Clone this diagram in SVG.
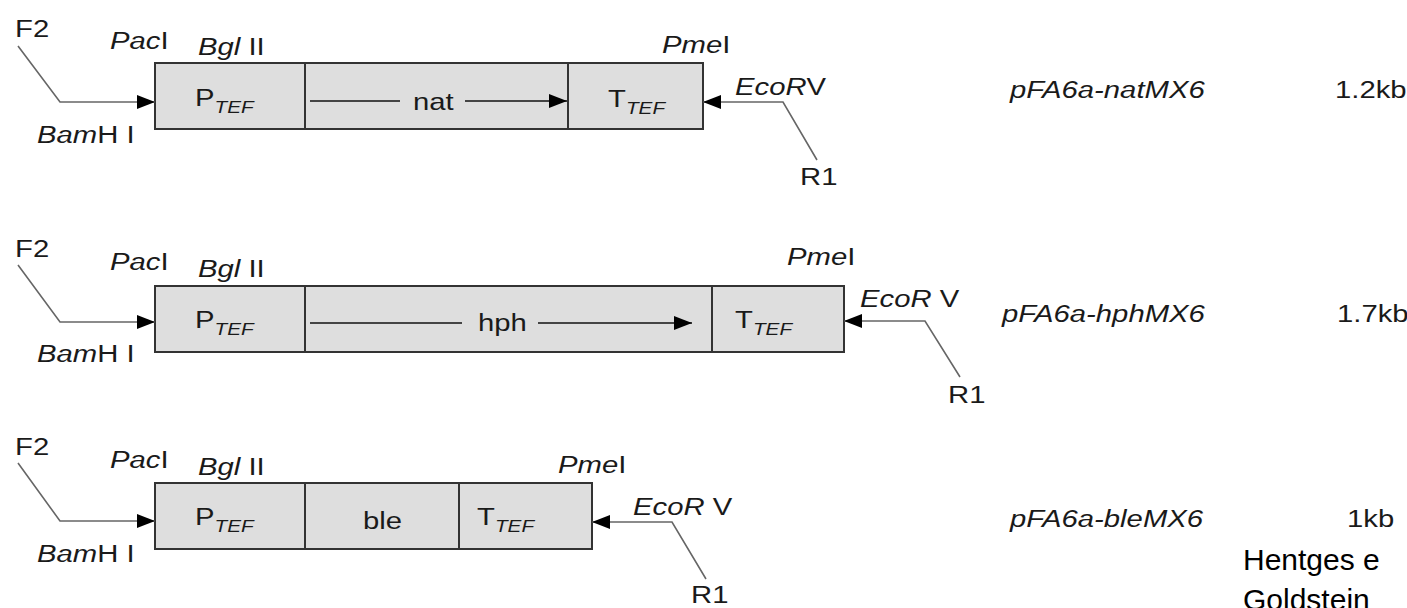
<svg xmlns="http://www.w3.org/2000/svg" width="1407" height="608" viewBox="0 0 1407 608">
<style>
text{font-family:"Liberation Sans",Arial,sans-serif;font-size:24px;fill:#1a1a1a}
.it{font-style:italic}
.sub{font-style:italic;font-size:17px}
.box{fill:#dedede;stroke:#333;stroke-width:2}
.div{stroke:#333;stroke-width:2}
.conn{fill:none;stroke:#666;stroke-width:1.6}
.gene{fill:none;stroke:#111;stroke-width:1.6}
.ref{font-size:30px;fill:#000}
</style>
<defs>
<marker id="ah" markerUnits="userSpaceOnUse" markerWidth="20" markerHeight="16" refX="18" refY="7" orient="auto">
<path d="M0,0 L18,7 L0,14 z" fill="#000"/>
</marker>
</defs>

<g id="row1-cassette">
<rect class="box" x="155" y="63" width="548" height="66"/>
<line class="div" x1="305" y1="63" x2="305" y2="129"/>
<line class="div" x1="568" y1="63" x2="568" y2="129"/>
<text transform="translate(195 106) scale(1.22 1)">P<tspan class="sub" dy="7">TEF</tspan></text>
<text transform="translate(413 110) scale(1.22 1)">nat</text>
<text transform="translate(608 107) scale(1.22 1)">T<tspan class="sub" dy="7">TEF</tspan></text>
</g>
<g id="row1-labels">
<text transform="translate(15 37) scale(1.22 1)">F2</text>
<text transform="translate(110 49) scale(1.22 1)"><tspan class="it">Pac</tspan>I</text>
<text transform="translate(198 55) scale(1.22 1)"><tspan class="it">Bgl</tspan> II</text>
<text transform="translate(37 143) scale(1.22 1)"><tspan class="it">Bam</tspan>H I</text>
<text transform="translate(662 53) scale(1.22 1)"><tspan class="it">Pme</tspan>I</text>
<text transform="translate(735 95) scale(1.22 1)"><tspan class="it">EcoR</tspan>V</text>
<text transform="translate(800 185) scale(1.22 1)">R1</text>
<text class="it" transform="translate(1010 98) scale(1.22 1)">pFA6a-natMX6</text>
<text transform="translate(1335 98) scale(1.22 1)">1.2kb</text>
</g>

<g id="row2-cassette">
<rect class="box" x="155" y="286" width="689" height="66"/>
<line class="div" x1="305" y1="286" x2="305" y2="352"/>
<line class="div" x1="712" y1="286" x2="712" y2="352"/>
<text transform="translate(195 328) scale(1.22 1)">P<tspan class="sub" dy="7">TEF</tspan></text>
<text transform="translate(478 331) scale(1.22 1)">hph</text>
<text transform="translate(735 328) scale(1.22 1)">T<tspan class="sub" dy="7">TEF</tspan></text>
</g>
<g id="row2-labels">
<text transform="translate(15 257) scale(1.22 1)">F2</text>
<text transform="translate(110 270) scale(1.22 1)"><tspan class="it">Pac</tspan>I</text>
<text transform="translate(198 277) scale(1.22 1)"><tspan class="it">Bgl</tspan> II</text>
<text transform="translate(37 362) scale(1.22 1)"><tspan class="it">Bam</tspan>H I</text>
<text transform="translate(787 265) scale(1.22 1)"><tspan class="it">Pme</tspan>I</text>
<text transform="translate(860 307) scale(1.22 1)"><tspan class="it">EcoR</tspan> V</text>
<text transform="translate(948 403) scale(1.22 1)">R1</text>
<text class="it" transform="translate(1002 322) scale(1.22 1)">pFA6a-hphMX6</text>
<text transform="translate(1337 322) scale(1.22 1)">1.7kb</text>
</g>

<g id="row3-cassette">
<rect class="box" x="155" y="483" width="437" height="66"/>
<line class="div" x1="305" y1="483" x2="305" y2="549"/>
<line class="div" x1="459" y1="483" x2="459" y2="549"/>
<text transform="translate(195 525) scale(1.22 1)">P<tspan class="sub" dy="7">TEF</tspan></text>
<text transform="translate(363 529) scale(1.22 1)">ble</text>
<text transform="translate(477 525) scale(1.22 1)">T<tspan class="sub" dy="7">TEF</tspan></text>
</g>
<g id="row3-labels">
<text transform="translate(15 455) scale(1.22 1)">F2</text>
<text transform="translate(110 468) scale(1.22 1)"><tspan class="it">Pac</tspan>I</text>
<text transform="translate(198 475) scale(1.22 1)"><tspan class="it">Bgl</tspan> II</text>
<text transform="translate(37 562) scale(1.22 1)"><tspan class="it">Bam</tspan>H I</text>
<text transform="translate(558 473) scale(1.22 1)"><tspan class="it">Pme</tspan>I</text>
<text transform="translate(633 515) scale(1.22 1)"><tspan class="it">EcoR</tspan> V</text>
<text transform="translate(691 603) scale(1.22 1)">R1</text>
<text class="it" transform="translate(1010 527) scale(1.22 1)">pFA6a-bleMX6</text>
<text transform="translate(1347 527) scale(1.22 1)">1kb</text>
</g>

<g id="citation">
<text class="ref" x="1243" y="570">Hentges e</text>
<text class="ref" x="1243" y="610">Goldstein</text>
</g>

<g id="connectors">
<polyline class="conn" points="18,46 60,102 155,102" marker-end="url(#ah)"/>
<polyline class="conn" points="817,160 783,102 703,102" marker-end="url(#ah)"/>
<line class="gene" x1="310" y1="101" x2="400" y2="101"/>
<line class="gene" x1="465" y1="101" x2="567" y2="101" marker-end="url(#ah)"/>

<polyline class="conn" points="18,265 60,322 155,322" marker-end="url(#ah)"/>
<polyline class="conn" points="960,377 925,321 844,321" marker-end="url(#ah)"/>
<line class="gene" x1="310" y1="323" x2="462" y2="323"/>
<line class="gene" x1="538" y1="323" x2="692" y2="323" marker-end="url(#ah)"/>

<polyline class="conn" points="18,463 60,521 155,521" marker-end="url(#ah)"/>
<polyline class="conn" points="706,579 672,522 592,522" marker-end="url(#ah)"/>
</g>
</svg>
